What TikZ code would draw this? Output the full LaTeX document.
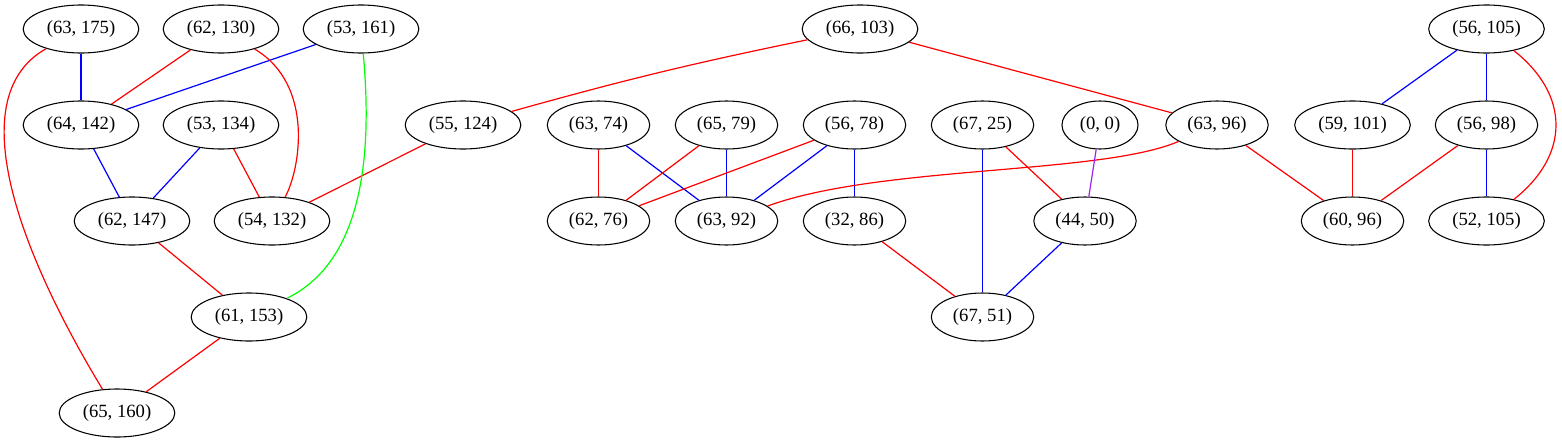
\documentclass[tikz,border=0pt]{standalone}
\usepackage{fontspec}
\setmainfont{Liberation Serif}
\usetikzlibrary{shapes.geometric}
\definecolor{gvred}{RGB}{255,0,0}
\definecolor{gvblue}{RGB}{0,0,255}
\definecolor{gvgreen}{RGB}{0,255,0}
\definecolor{gvpurple}{RGB}{160,32,240}

\begin{document}
\begin{tikzpicture}[x = 0.75pt, y = -0.75pt,
	 pair/.style = {ellipse, draw, line width = 0.8pt, inner xsep = 5pt, inner ysep = 2pt, minimum height = 36pt, font = \fontsize{14pt}{16pt}\selectfont},
	 link/.style = {line width = 0.9pt}]
	 \useasboundingbox (0, 0) rectangle (1562, 443);
	 
	 \foreach \a/\b/\x/\y in {63/175/81/29, 62/130/221/29, 53/161/361/29, 66/103/860/29, 56/105/1486.5/29,
	 64/142/81/125, 53/134/221/125, 55/124/463/125, 63/74/598.5/125, 65/79/726.5/125, 56/78/854.5/125,
	 67/25/982.5/125, 0/0/1100/125, 63/96/1217/125, 59/101/1352.5/125, 56/98/1486.5/125,
	 62/147/132/221, 54/132/272/221, 62/76/598.5/221, 63/92/726.5/221, 32/86/854.5/221, 44/50/1085/221,
	 60/96/1352.5/221, 52/105/1486.5/221, 61/153/249/317, 67/51/982.5/317, 65/160/117/413}
	 \node[pair] (p\a-\b) at (\x, \y) {(\a, \b)};
	 
	 \foreach \u/\v in {63-175/64-142, 53-161/64-142, 64-142/62-147, 53-134/62-147, 63-74/63-92, 65-79/63-92,
	 56-78/63-92, 56-78/32-86, 67-25/67-51, 44-50/67-51, 56-105/59-101, 56-105/56-98, 56-98/52-105}
	 \draw[link, gvblue] (p\u) -- (p\v);
	 
	 \foreach \u/\v in {62-130/64-142, 53-134/54-132, 55-124/54-132, 66-103/63-96, 63-74/62-76, 65-79/62-76,
	 56-78/62-76, 67-25/44-50, 32-86/67-51, 62-147/61-153, 61-153/65-160, 63-96/60-96, 59-101/60-96, 56-98/60-96}
	 \draw[link, gvred] (p\u) -- (p\v);
	 
	 \draw[link, gvred] (p63-175) .. controls (-45, 100) and (30, 270) .. (p65-160);
	 \draw[link, gvred] (p62-130) .. controls (315, 85) and (300, 170) .. (p54-132);
	 \draw[link, gvred] (p63-96) .. controls (1100, 175) and (880, 165) .. (p63-92);
	 \draw[link, gvred] (p56-105) .. controls (1570, 95) and (1570, 155) .. (p52-105);
	 \draw[link, gvred] (p66-103) to[bend right = 2] (p55-124);
	 
	 \draw[link, gvgreen] (p53-161) .. controls (372, 150) and (365, 260) .. (p61-153);
	 \draw[link, gvpurple] (p0-0) -- (p44-50);
\end{tikzpicture}
\end{document}
